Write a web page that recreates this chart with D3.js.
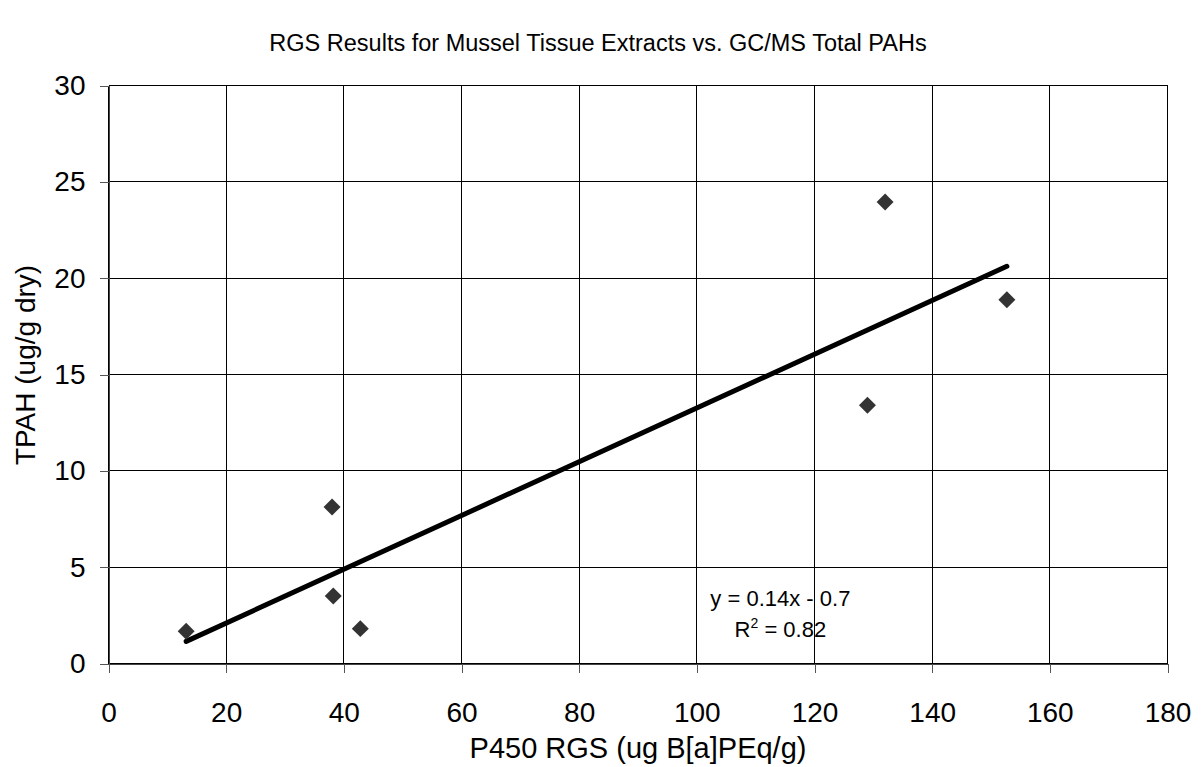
<!DOCTYPE html>
<html><head><meta charset="utf-8">
<script src="https://cdn.jsdelivr.net/npm/d3@7"></script>
<style>
html,body{margin:0;padding:0;background:#fff;}
text{font-family:"Liberation Sans",Arial,sans-serif;fill:#000;}
</style></head>
<body><svg id="c" width="1202" height="767"></svg>
<script>
const xValues = [13.2, 38.0, 38.2, 42.8, 129.0, 132.0, 152.7];
const yValues = [1.67, 8.12, 3.5, 1.81, 13.4, 23.95, 18.88];
const xTicks = [0, 20, 40, 60, 80, 100, 120, 140, 160, 180];
const yTicks = [0, 5, 10, 15, 20, 25, 30];
const titleText = "RGS Results for Mussel Tissue Extracts vs. GC/MS Total PAHs";
const xTitle = "P450 RGS (ug B[a]PEq/g)";
const yTitle = "TPAH (ug/g dry)";

const svg = d3.select("#c");
const L = 108.5, R = 1167.5, T = 85.5, B = 663.5;
const x = d3.scaleLinear().domain([0, 180]).range([L, R]);
const y = d3.scaleLinear().domain([0, 30]).range([B, T]);

// gridlines
const g = svg.append("g").attr("shape-rendering", "crispEdges");
g.selectAll(".hg").data(yTicks).enter().append("line")
  .attr("x1", L).attr("x2", R).attr("y1", d => y(d)).attr("y2", d => y(d))
  .attr("stroke", "#000").attr("stroke-width", 1);
g.selectAll(".vg").data(xTicks).enter().append("line")
  .attr("y1", T).attr("y2", B).attr("x1", d => x(d)).attr("x2", d => x(d))
  .attr("stroke", "#000").attr("stroke-width", 1);

// axes
const xAxis = svg.append("g").attr("transform", `translate(0,${B})`)
  .call(d3.axisBottom(x).tickValues(xTicks).tickSize(9).tickPadding(30).tickSizeOuter(0));
const yAxis = svg.append("g").attr("transform", `translate(${L},0)`)
  .call(d3.axisLeft(y).tickValues(yTicks).tickSize(9).tickPadding(14).tickSizeOuter(0));
[xAxis, yAxis].forEach(a => {
  a.attr("shape-rendering", "crispEdges");
  a.select(".domain").attr("stroke", "#444");
  a.selectAll(".tick line").attr("stroke", "#555");
  a.selectAll(".tick text").style("font-family", '"Liberation Sans",Arial,sans-serif')
    .style("font-size", "28px").attr("fill", "#000");
});

// trend line (least squares)
const n = xValues.length;
const mx = d3.mean(xValues), my = d3.mean(yValues);
let sxy = 0, sxx = 0;
for (let i = 0; i < n; i++) { sxy += (xValues[i]-mx)*(yValues[i]-my); sxx += (xValues[i]-mx)**2; }
const slope = sxy / sxx, intercept = my - slope * mx;
const xe = d3.extent(xValues);
svg.append("line")
  .attr("x1", x(xe[0])).attr("y1", y(slope*xe[0]+intercept))
  .attr("x2", x(xe[1])).attr("y2", y(slope*xe[1]+intercept))
  .attr("stroke", "#000").attr("stroke-width", 5).attr("stroke-linecap", "round");

// points
const sym = d3.symbol().type(d3.symbolSquare).size(144);
svg.selectAll(".pt").data(xValues).enter().append("path")
  .attr("d", sym)
  .attr("transform", (d, i) => `translate(${x(d)},${y(yValues[i])}) rotate(45)`)
  .attr("fill", "#333");

// equation
svg.append("text").attr("x", x(114.2)).attr("y", y(3.0)).attr("text-anchor", "middle")
  .style("font-size", "22px").text("y = 0.14x - 0.7");
const r2 = svg.append("text").attr("x", x(114.2)).attr("y", y(1.4)).attr("text-anchor", "middle")
  .style("font-size", "22px");
r2.append("tspan").text("R");
r2.append("tspan").attr("dy", -9).style("font-size", "14px").text("2");
r2.append("tspan").attr("dy", 9).text(" = 0.82");

// titles
svg.append("text").attr("x", 598).attr("y", 51).attr("text-anchor", "middle")
  .style("font-size", "23.5px").text(titleText);
svg.append("text").attr("x", 638).attr("y", 758).attr("text-anchor", "middle")
  .style("font-size", "29px").text(xTitle);
svg.append("text").attr("transform", "translate(35,365) rotate(-90)").attr("text-anchor", "middle")
  .style("font-size", "28px").text(yTitle);
</script></body></html>
